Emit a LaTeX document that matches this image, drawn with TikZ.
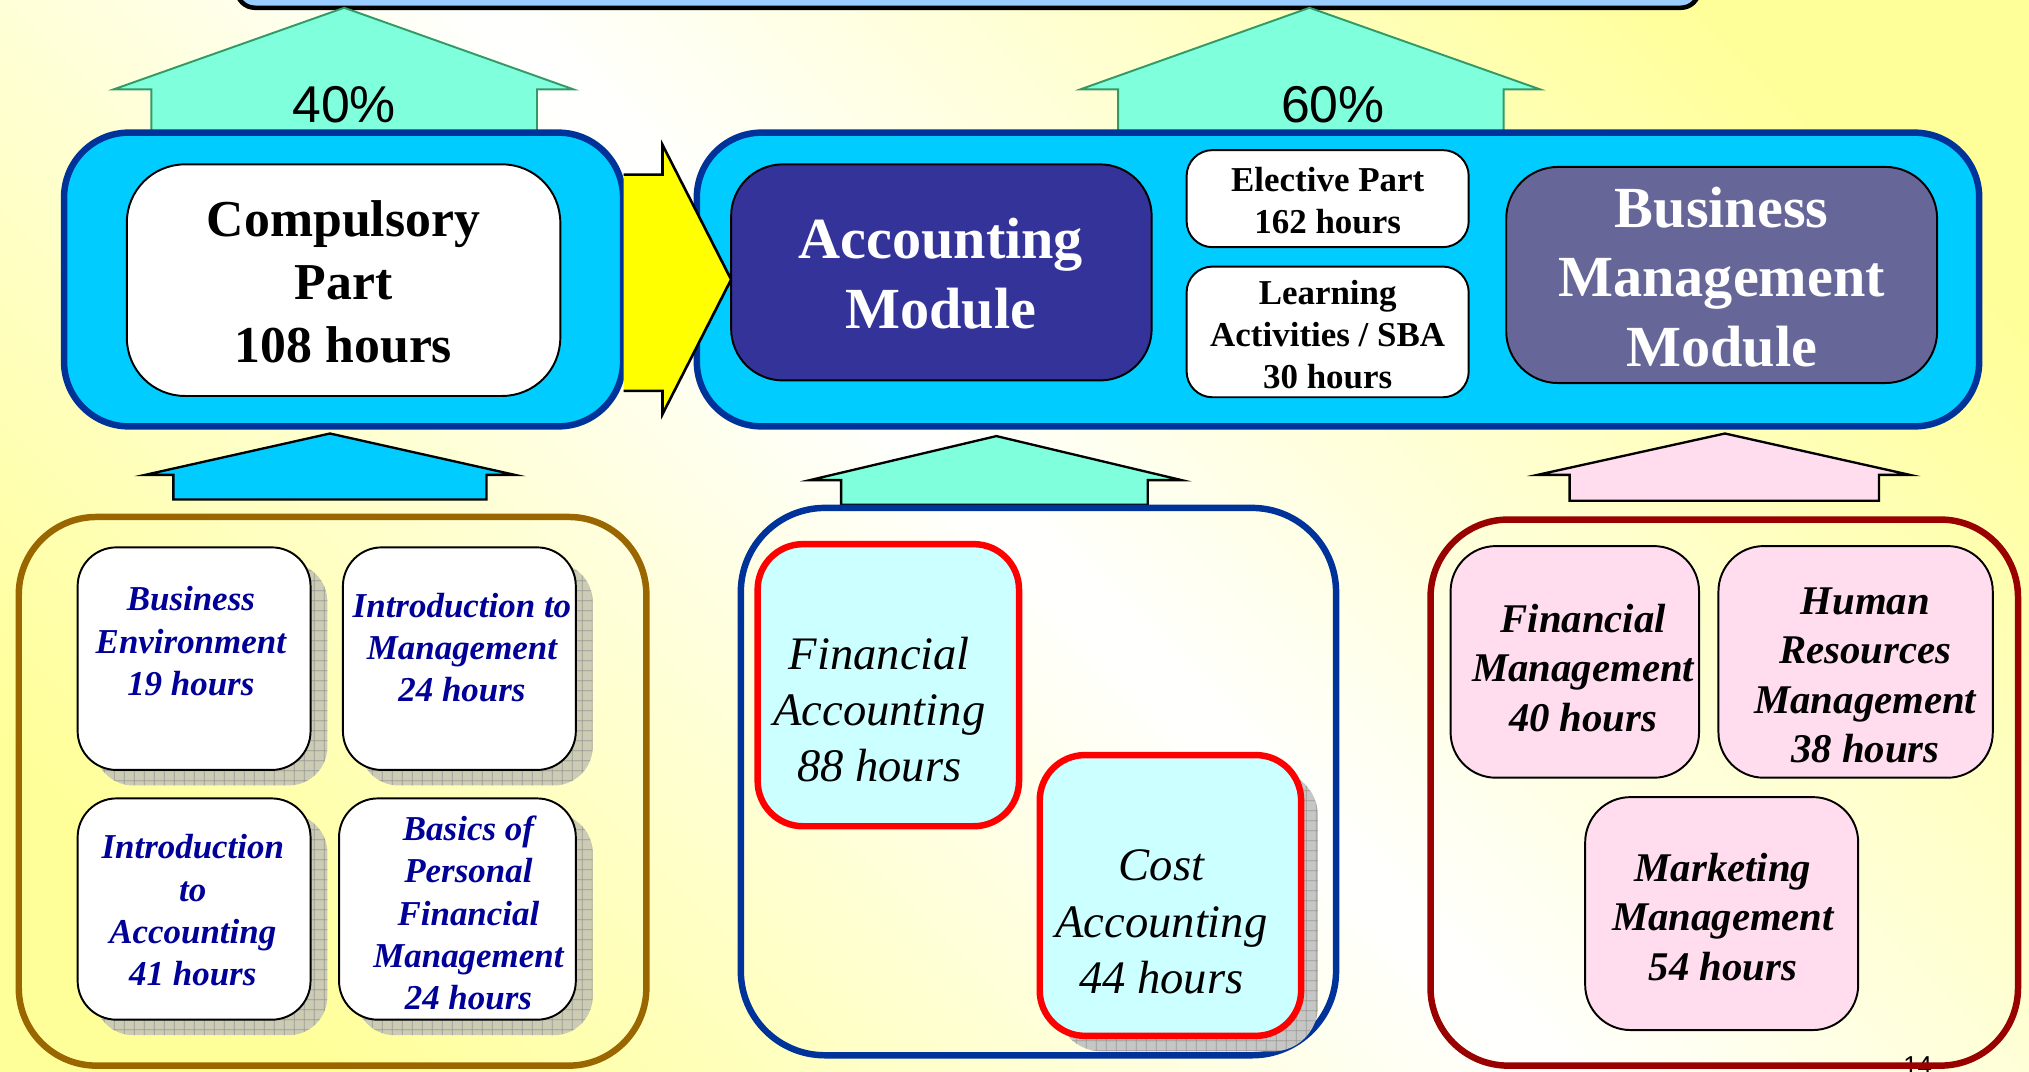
\documentclass[tikz,border=0pt]{standalone}
\usepackage{fontspec}
\setmainfont{Liberation Serif}
\newfontfamily\pctfont{Liberation Sans}
\usetikzlibrary{shadows,patterns}

\definecolor{bgyel}{HTML}{FFFF99}
\definecolor{topblue}{HTML}{99CCFF}
\definecolor{contfill}{HTML}{00CCFF}
\definecolor{contline}{HTML}{003399}
\definecolor{aqua}{HTML}{80FFDD}
\definecolor{aqualine}{HTML}{339966}
\definecolor{accblue}{HTML}{333399}
\definecolor{bmgrey}{HTML}{666699}
\definecolor{txtblue}{HTML}{000099}
\definecolor{brownline}{HTML}{996600}
\definecolor{darkred}{HTML}{990000}
\definecolor{palecyan}{HTML}{CCFFFF}
\definecolor{pinkfill}{HTML}{FFDDEE}
\definecolor{shtan}{HTML}{CCCCB4}
\definecolor{shgrey}{HTML}{C6C6C6}
\definecolor{gridc}{HTML}{9A9A94}
\definecolor{arryel}{HTML}{FFFF00}

\pgfdeclarehorizontalshading{bgshade}{100bp}{color(0bp)=(bgyel); color(22bp)=(bgyel); color(50bp)=(white); color(78bp)=(bgyel); color(100bp)=(bgyel)}

% grid of the shadows, wider than the one of the patterns library
\pgfdeclarepatternformonly{widegrid}{\pgfpointorigin}{\pgfqpoint{8pt}{8pt}}{\pgfqpoint{8pt}{8pt}}{
  \pgfsetlinewidth{0.7pt}
  \pgfpathmoveto{\pgfqpoint{0pt}{1pt}}\pgfpathlineto{\pgfqpoint{8pt}{1pt}}
  \pgfpathmoveto{\pgfqpoint{1pt}{0pt}}\pgfpathlineto{\pgfqpoint{1pt}{8pt}}
  \pgfusepath{stroke}}

\tikzset{
  cont/.style={draw=contline, line width=5pt, fill=contfill, rounded corners=50pt, inner sep=0pt},
  group/.style={line width=5pt, rounded corners=60pt, inner sep=0pt},
  plainbox/.style={draw, line width=1.5pt, inner sep=0pt},
  gshadow/.style={general shadow={shadow xshift=13pt, shadow yshift=-12pt, fill=#1, postaction={pattern=widegrid, pattern color=gridc}}},
  subbox/.style={plainbox, fill=white, rounded corners=30pt, gshadow=shtan},
  redbox/.style={draw=red, line width=5pt, fill=palecyan, rounded corners=35pt, inner sep=0pt},
  pinkbox/.style={plainbox, fill=pinkfill, rounded corners=35pt},
  uparr/.style={draw=aqualine, line width=1.5pt, fill=aqua},
  lowarr/.style={draw=black, line width=1.8pt},
  bigtxt/.style={align=center, font=\fontsize{40}{48.5}\selectfont\bfseries},
  modtxt/.style={align=center, text=white, font=\fontsize{45}{53.5}\selectfont\bfseries},
  tagtxt/.style={align=center, font=\fontsize{27}{32.5}\selectfont\bfseries},
  bluetxt/.style={align=center, text=txtblue, font=\fontsize{27}{32.6}\selectfont\bfseries\itshape},
  acctxt/.style={align=center, font=\fontsize{36}{43.5}\selectfont\itshape},
  pinktxt/.style={align=center, font=\fontsize{31.5}{38.2}\selectfont\bfseries\itshape},
  pct/.style={font=\pctfont\fontsize{40}{48}\selectfont}
}

\begin{document}
\begin{tikzpicture}[x=1pt, y=-1pt]

\useasboundingbox (0,0) rectangle (1568,828);
\clip (0,0) rectangle (1568,828);
\fill[shading=bgshade, shading angle=45] (0,0) rectangle (1568,828);

% bar at the top, cut off by the page
\node[draw, fill=topblue, line width=3.5pt, rounded corners=14pt, minimum width=1130pt, minimum height=60pt] (topbar) at (748,-24) {};

% arrows up to the bar
\draw[uparr] (117,110) -- (117,69) -- (88,69) -- (266,6) -- (443,69) -- (415,69) -- (415,110);
\draw[uparr] (864,110) -- (864,69) -- (835,69) -- (1012,6) -- (1190,69) -- (1162,69) -- (1162,110);

% arrows up from the lower groups
\draw[lowarr, fill=contfill] (134,386) -- (134,367) -- (112,367) -- (255,335) -- (398,367) -- (376,367) -- (376,386) -- cycle;
\draw[lowarr, fill=aqua] (650,390) -- (650,371) -- (626,371) -- (770,337) -- (913,371) -- (887,371) -- (887,390) -- cycle;
\draw[lowarr, fill=pinkfill] (1213,387) -- (1213,367) -- (1188,367) -- (1333,335) -- (1476,367) -- (1452,367) -- (1452,387) -- cycle;

% upper row
\node[cont, minimum width=432pt, minimum height=227pt] (compcont) at (265.5,216) {};
\node[cont, minimum width=991pt, minimum height=227pt] (elecont) at (1034,216) {};

\fill[arryel] (482,135) -- (512,135) -- (512,112) -- (565,216) -- (512,320) -- (512,302) -- (482,302);
\draw[line width=2pt] (482,135) -- (512,135) -- (512,112) -- (565,216) -- (512,320) -- (512,302) -- (482,302);

\node[plainbox, fill=white, rounded corners=45pt, minimum width=335pt, minimum height=179pt] (comp) at (265.5,216.5) {};
\node[plainbox, fill=accblue, rounded corners=40pt, minimum width=325pt, minimum height=167pt] (accmod) at (727.5,210.5) {};
\node[plainbox, fill=white, rounded corners=20pt, minimum width=218pt, minimum height=75pt] (elective) at (1026,153.5) {};
\node[plainbox, fill=white, rounded corners=20pt, minimum width=218pt, minimum height=101pt] (learn) at (1026,256.5) {};
\node[plainbox, fill=bmgrey, rounded corners=40pt, minimum width=333pt, minimum height=167pt] (bmmod) at (1330.5,212.5) {};

\node[bigtxt] (comp-t) at (265.5,218) {Compulsory\\Part\\108 hours};
\node[modtxt] (accmod-t) at (727,211.5) {Accounting\\Module};
\node[tagtxt] (elective-t) at (1026,155) {Elective Part\\162 hours};
\node[tagtxt] (learn-t) at (1026,258.5) {Learning\\Activities / SBA\\30 hours};
\node[modtxt] (bmmod-t) at (1330.5,214) {Business\\Management\\Module};

\node[pct] (pct40) at (266,81) {40\%};
\node[pct] (pct60) at (1030,81) {60\%};

% page number, half hidden
\node[anchor=base, font=\pctfont\fontsize{20}{24}\selectfont] (pagenum) at (1482,830) {14};

% lower groups
\node[group, draw=brownline, minimum width=485pt, minimum height=424pt] (corecont) at (257,611.5) {};
\node[group, draw=contline, rounded corners=65pt, minimum width=460pt, minimum height=423pt] (acccont) at (802.5,604) {};
\node[group, draw=darkred, minimum width=454pt, minimum height=422pt] (bmcont) at (1332.5,612.5) {};

\node[subbox, minimum width=180pt, minimum height=172pt] (busenv) at (150,509) {};
\node[subbox, minimum width=180pt, minimum height=172pt] (intmgt) at (355,509) {};
\node[subbox, minimum width=180pt, minimum height=171pt] (intacc) at (150,702.5) {};
\node[subbox, minimum width=183pt, minimum height=171pt] (basics) at (353.5,702.5) {};

\node[bluetxt] (busenv-t) at (147.5,495.5) {Business\\Environment\\19 hours};
\node[bluetxt] (intmgt-t) at (357,500.5) {Introduction to\\Management\\24 hours};
\node[bluetxt] (intacc-t) at (149,703.5) {Introduction\\to\\Accounting\\41 hours};
\node[bluetxt] (basics-t) at (362,705.5) {Basics of\\Personal\\Financial\\Management\\24 hours};

\node[redbox, minimum width=202pt, minimum height=218pt] (finacc) at (686.5,529.5) {};
\node[redbox, gshadow=shgrey, minimum width=202pt, minimum height=217pt] (costacc) at (904.5,692) {};
\node[acctxt] (finacc-t) at (679.5,548.5) {Financial\\Accounting\\88 hours};
\node[acctxt] (costacc-t) at (897.5,712.5) {Cost\\Accounting\\44 hours};

\node[pinkbox, minimum width=192pt, minimum height=179pt] (finmgt) at (1217,511.5) {};
\node[pinkbox, minimum width=212pt, minimum height=179pt] (hrm) at (1434,511.5) {};
\node[pinkbox, minimum width=211pt, minimum height=180pt] (mktmgt) at (1330.5,706) {};
\node[pinktxt] (finmgt-t) at (1223.5,516) {Financial\\Management\\40 hours};
\node[pinktxt] (hrm-t) at (1441.5,522) {Human\\Resources\\Management\\38 hours};
\node[pinktxt] (mktmgt-t) at (1331.5,708.5) {Marketing\\Management\\54 hours};

\end{tikzpicture}
\end{document}
